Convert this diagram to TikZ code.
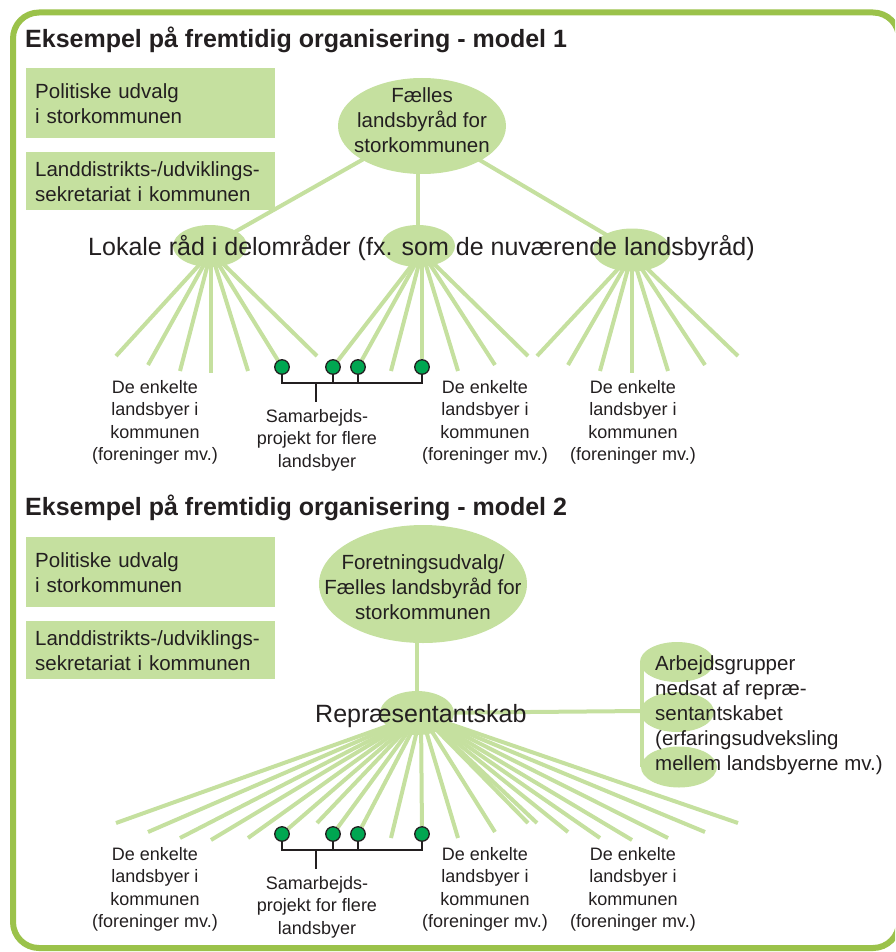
\documentclass[tikz,border=0pt]{standalone}
\usepackage{fontspec}
\setmainfont{Liberation Sans}
\usetikzlibrary{shapes.geometric}
\pgfdeclarelayer{background}
\pgfsetlayers{background,main}
\definecolor{framegreen}{RGB}{155,194,74}
\definecolor{lightgreen}{RGB}{197,224,159}
\definecolor{dotgreen}{RGB}{0,166,81}
\definecolor{ink}{RGB}{35,31,32}
\begin{document}
\begin{tikzpicture}[x=1pt,y=-1pt,
  titletext/.style={font=\fontsize{25}{29}\selectfont\bfseries, text=ink, anchor=base west, inner sep=0},
  boxnode/.style={fill=lightgreen, anchor=north west, minimum width=249pt, text width=231pt, inner xsep=9pt, inner ysep=0pt, align=left, font=\fontsize{20.5}{25}\selectfont, text=ink},
  ell/.style={ellipse, fill=lightgreen, inner sep=0pt},
  midtext/.style={font=\fontsize{20.5}{25}\selectfont, text=ink, align=center, anchor=base, inner sep=0},
  bigtext/.style={font=\fontsize{25}{30}\selectfont, text=ink, anchor=base west, inner sep=0},
  smalltext/.style={font=\fontsize{18}{22.5}\selectfont, text=ink, align=center, anchor=base, inner sep=0},
  fan/.style={draw=lightgreen, line width=4pt},
  gdot/.style={circle, fill=dotgreen, draw=ink, line width=1.3pt, minimum size=14.5pt, inner sep=0pt},
  brk/.style={draw=ink, line width=1.4pt}
]
\useasboundingbox (0,0) rectangle (895,952);
\clip (0,0) rectangle (895,952);
% frame
\draw[framegreen, line width=6pt, rounded corners=26pt] (13,12.5) rectangle (899,948);

% ================= MODEL 1 =================
\node[titletext] (title1) at (25,48) {Eksempel på fremtidig organisering - model 1};
\node[boxnode, minimum height=70pt] (box1a) at (26,68) {Politiske udvalg\\i storkommunen};
\node[boxnode, minimum height=58pt] (box1b) at (26,152) {Landdistrikts-/udviklings-\\sekretariat i kommunen};

\node[ell, minimum width=168pt, minimum height=96pt] (t1) at (422,126) {};
\node[ell, minimum width=74pt, minimum height=42pt] (la) at (210,246) {};
\node[ell, minimum width=74pt, minimum height=42pt] (lb) at (418,246) {};
\node[ell, minimum width=78pt, minimum height=43pt] (lc) at (632,250) {};

\node[gdot] (d1) at (282,367) {};
\node[gdot] (d2) at (333,367) {};
\node[gdot] (d3) at (358,367) {};
\node[gdot] (d4) at (422,367) {};

\coordinate (cA) at (211,252);
\coordinate (cB) at (422,252);
\coordinate (cC) at (632,254);
\foreach \n/\x/\y in {eA1/116/356,eA2/148/365,eA3/180/371,eA4/211/373,eA5/248/371,eA7/317/356,
  eB3/391/371,eB5/458/371,eB6/495/365,eB7/528/356,
  eC1/537/356,eC2/568/365,eC3/600/371,eC4/632/373,eC5/668/371,eC6/705/365,eC7/738/356}
  \coordinate (\n) at (\x,\y);

\begin{pgfonlayer}{background}
\draw[fan] (t1.center) -- (la.center);
\draw[fan] (t1.center) -- (lc.center);
\draw[fan] (lb.center) -- (lb.center |- t1.center);
\foreach \n in {eA1,eA2,eA3,eA4,eA5,d1,eA7} \draw[fan] (cA) -- (\n);
\foreach \n in {d2,d3,eB3,d4,eB5,eB6,eB7} \draw[fan] (cB) -- (\n);
\foreach \n in {eC1,eC2,eC3,eC4,eC5,eC6,eC7} \draw[fan] (cC) -- (\n);
\end{pgfonlayer}

\coordinate (br1) at (316,383);
\coordinate (br2) at (316,402);
\draw[brk] (d1.south) |- (d4.south |- br1) -- (d4.south);
\draw[brk] (d2.south) -- (d2.south |- br1);
\draw[brk] (d3.south) -- (d3.south |- br1);
\draw[brk] (br1) -- (br2);

\node[midtext] (t1txt) at (422,153) {Fælles\\landsbyråd for\\storkommunen};
\node[bigtext] (lokale) at (88,255) {Lokale råd i delområder (fx. som de nuværende landsbyråd)};

\node[smalltext] (lab1a) at (155,460.5) {De enkelte\\landsbyer i\\kommunen\\(foreninger mv.)};
\node[smalltext] (sam1) at (317,467) {Samarbejds-\\projekt for flere\\landsbyer};
\node[smalltext] (lab1b) at (485,460.5) {De enkelte\\landsbyer i\\kommunen\\(foreninger mv.)};
\node[smalltext] (lab1c) at (633,460.5) {De enkelte\\landsbyer i\\kommunen\\(foreninger mv.)};

% ================= MODEL 2 =================
\node[titletext] (title2) at (25,515) {Eksempel på fremtidig organisering - model 2};
\node[boxnode, minimum height=70pt] (box2a) at (26,537) {Politiske udvalg\\i storkommunen};
\node[boxnode, minimum height=58pt] (box2b) at (26,621) {Landdistrikts-/udviklings-\\sekretariat i kommunen};

\node[ell, minimum width=208pt, minimum height=118pt] (t2) at (423,584) {};
\node[ell, minimum width=74pt, minimum height=44pt] (rep) at (417,713) {};
\node[ell, minimum width=74pt, minimum height=40pt] (a1) at (677,662) {};
\node[ell, minimum width=74pt, minimum height=40pt] (a2) at (677,712) {};
\node[ell, minimum width=76pt, minimum height=41pt] (a3) at (679,767) {};

\node[gdot] (g1) at (282,834) {};
\node[gdot] (g2) at (333,834) {};
\node[gdot] (g3) at (358,834) {};
\node[gdot] (g4) at (422,834) {};

\coordinate (cR) at (421,714);
\coordinate (bx) at (642,711);
\foreach \n/\x/\y in {fA1/116/823,fA2/148/832,fA3/180/838,fA4/211/840,fA5/248/838,fA7/317/823,
  fB3/391/838,fB5/458/838,fB6/495/832,fB7/528/823,
  fC1/537/823,fC2/568/832,fC3/600/838,fC4/632/840,fC5/668/838,fC6/705/832,fC7/738/823}
  \coordinate (\n) at (\x,\y);

\begin{pgfonlayer}{background}
\draw[fan] (rep.center) -- (rep.center |- t2.center);
\draw[fan] (rep.center) -- (bx);
\draw[fan] (bx |- a1.center) -- (bx |- a3.center);
\foreach \n in {fA1,fA2,fA3,fA4,fA5,g1,fA7,g2,g3,fB3,g4,fB5,fB6,fB7,fC1,fC2,fC3,fC4,fC5,fC6,fC7}
  \draw[fan] (cR) -- (\n);
\end{pgfonlayer}

\coordinate (bs1) at (316,850);
\coordinate (bs2) at (316,869);
\draw[brk] (g1.south) |- (g4.south |- bs1) -- (g4.south);
\draw[brk] (g2.south) -- (g2.south |- bs1);
\draw[brk] (g3.south) -- (g3.south |- bs1);
\draw[brk] (bs1) -- (bs2);

\node[midtext] (t2txt) at (423,619) {Foretningsudvalg/\\Fælles landsbyråd for\\storkommunen};
\node[bigtext] (reptxt) at (315,722) {Repræsentantskab};
\node[font=\fontsize{20.5}{25}\selectfont, text=ink, align=left, anchor=base west, inner sep=0] (arb) at (655,770)
  {Arbejdsgrupper\\nedsat af repræ-\\sentantskabet\\(erfaringsudveksling\\mellem landsbyerne mv.)};

\node[smalltext] (lab2a) at (155,927.5) {De enkelte\\landsbyer i\\kommunen\\(foreninger mv.)};
\node[smalltext] (sam2) at (317,934) {Samarbejds-\\projekt for flere\\landsbyer};
\node[smalltext] (lab2b) at (485,927.5) {De enkelte\\landsbyer i\\kommunen\\(foreninger mv.)};
\node[smalltext] (lab2c) at (633,927.5) {De enkelte\\landsbyer i\\kommunen\\(foreninger mv.)};
\end{tikzpicture}
\end{document}
